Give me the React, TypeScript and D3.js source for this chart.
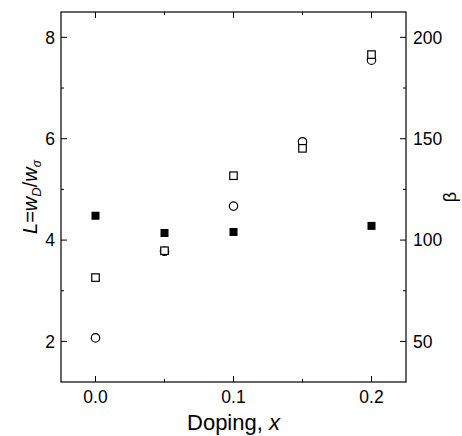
import React from "react";
import * as d3 from "d3";

const lDoping = [0, 0.05, 0.1, 0.15, 0.2];
const lSquares = [3.26, 3.79, 5.27, 5.81, 7.66];
const lCircles = [2.07, 3.78, 4.67, 5.94, 7.55];
const betaDoping = [0, 0.05, 0.1, 0.2];
const betaValues = [112, 103.5, 104, 107];

const xMajor = [0, 0.1, 0.2];
const xMinor = [0.05, 0.15];
const lMajor = [2, 4, 6, 8];
const lMinor = [3, 5, 7];
const bMajor = [50, 100, 150, 200];
const bMinor = [75, 125, 175];

const W = 462, H = 436;
const M = { left: 61, right: 406, top: 12, bottom: 382 };

export default function App() {
  const x = d3.scaleLinear().domain([-0.025, 0.225]).range([M.left, M.right]);
  const yL = d3.scaleLinear().domain([1.2, 8.5]).range([M.bottom, M.top]);
  const yB = d3.scaleLinear().domain([30, 212.5]).range([M.bottom, M.top]);
  const font = "Arial, 'Liberation Sans', sans-serif";
  const maj = 6, mnr = 3;
  const sq = 7.5;
  return (
    <svg width={W} height={H} style={{ position: "absolute", left: 0, top: 0, background: "#fff" }} fontFamily={font}>
      <rect x={0} y={0} width={W} height={H} fill="#fff" />
      {/* frame */}
      <rect x={M.left} y={M.top} width={M.right - M.left} height={M.bottom - M.top} fill="none" stroke="#000" strokeWidth={1.2} />
      {/* x ticks */}
      {xMajor.map((v) => (
        <g key={"xm" + v}>
          <line x1={x(v)} x2={x(v)} y1={M.bottom} y2={M.bottom - maj} stroke="#000" />
          <line x1={x(v)} x2={x(v)} y1={M.top} y2={M.top + maj} stroke="#000" />
          <text x={x(v)} y={403} textAnchor="middle" fontSize={17.5}>{d3.format(".1f")(v)}</text>
        </g>
      ))}
      {xMinor.map((v) => (
        <g key={"xn" + v}>
          <line x1={x(v)} x2={x(v)} y1={M.bottom} y2={M.bottom - mnr} stroke="#000" />
          <line x1={x(v)} x2={x(v)} y1={M.top} y2={M.top + mnr} stroke="#000" />
        </g>
      ))}
      {/* left ticks */}
      {lMajor.map((v) => (
        <g key={"lm" + v}>
          <line x1={M.left} x2={M.left + maj} y1={yL(v)} y2={yL(v)} stroke="#000" />
          <text x={55} y={yL(v)} dy="0.36em" textAnchor="end" fontSize={17.5}>{v}</text>
        </g>
      ))}
      {lMinor.map((v) => (
        <line key={"ln" + v} x1={M.left} x2={M.left + mnr} y1={yL(v)} y2={yL(v)} stroke="#000" />
      ))}
      {/* right ticks */}
      {bMajor.map((v) => (
        <g key={"bm" + v}>
          <line x1={M.right} x2={M.right - maj} y1={yB(v)} y2={yB(v)} stroke="#000" />
          <text x={413} y={yB(v)} dy="0.36em" textAnchor="start" fontSize={17.5}>{v}</text>
        </g>
      ))}
      {bMinor.map((v) => (
        <line key={"bn" + v} x1={M.right} x2={M.right - mnr} y1={yB(v)} y2={yB(v)} stroke="#000" />
      ))}
      {/* axis titles */}
      <text x={(M.left + M.right) / 2} y={430} textAnchor="middle" fontSize={22}>
        Doping, <tspan fontStyle="italic">x</tspan>
      </text>
      <text transform={`translate(37,${(M.top + M.bottom) / 2}) rotate(-90)`} textAnchor="middle" fontSize={20}>
        <tspan fontStyle="italic">L</tspan>=<tspan fontStyle="italic">w</tspan>
        <tspan fontStyle="italic" fontSize={13} dy={4}>D</tspan>
        <tspan dy={-4}>/</tspan>
        <tspan fontStyle="italic">w</tspan>
        <tspan fontStyle="italic" fontSize={12} dy={4}>σ</tspan>
      </text>
      <text transform={`translate(456,${(M.top + M.bottom) / 2}) rotate(-90)`} textAnchor="middle" fontSize={18}>β</text>
      {/* beta filled squares */}
      {betaDoping.map((d, i) => (
        <rect key={"b" + i} x={x(d) - 4} y={yB(betaValues[i]) - 4} width={8} height={8} fill="#000" />
      ))}
      {/* L circles */}
      {lDoping.map((d, i) => (
        <circle key={"c" + i} cx={x(d)} cy={yL(lCircles[i])} r={4.2} fill="#fff" stroke="#000" strokeWidth={1.2} />
      ))}
      {/* L squares */}
      {lDoping.map((d, i) => (
        <rect key={"s" + i} x={x(d) - sq / 2} y={yL(lSquares[i]) - sq / 2} width={sq} height={sq} fill="#fff" stroke="#000" strokeWidth={1.2} />
      ))}
    </svg>
  );
}
